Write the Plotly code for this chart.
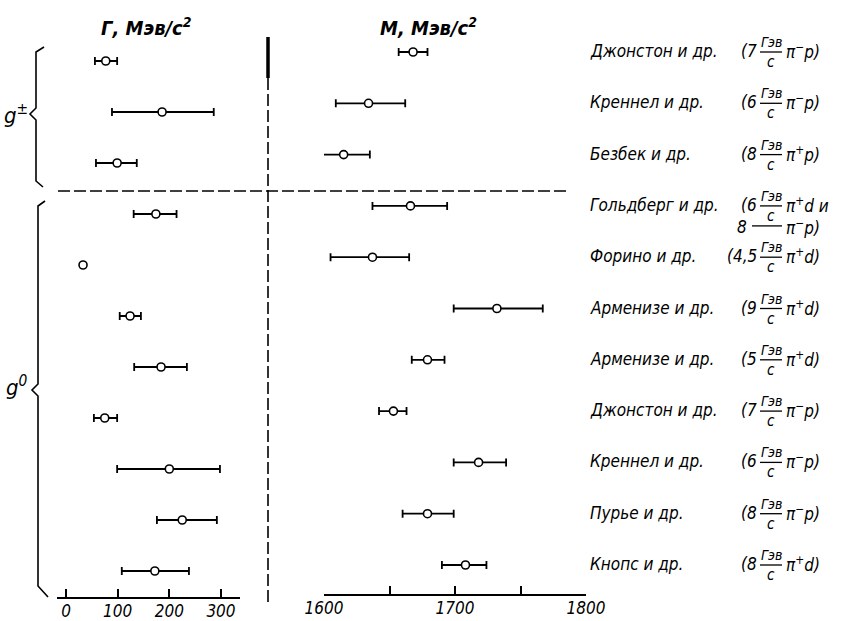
import plotly.graph_objects as go

# ---------------- data ----------------
authors = ["Джонстон и др.", "Креннел и др.", "Безбек и др.", "Гольдберг и др.",
           "Форино и др.", "Арменизе и др.", "Арменизе и др.", "Джонстон и др.",
           "Креннел и др.", "Пурье и др.", "Кнопс и др."]
momenta = ["7", "6", "8", "6", "4,5", "9", "5", "7", "6", "8", "8"]
reactions = ["π<sup>−</sup>p)", "π<sup>−</sup>p)", "π<sup>+</sup>p)", "π<sup>+</sup>d и",
             "π<sup>+</sup>d)", "π<sup>+</sup>d)", "π<sup>+</sup>d)", "π<sup>−</sup>p)",
             "π<sup>−</sup>p)", "π<sup>−</sup>p)", "π<sup>+</sup>d)"]
second_line_momentum = "8"
second_line_reaction = "π<sup>−</sup>p)"

gamma = [77, 186, 99, 174, 33, 124, 184, 75, 200, 225, 172]          # Γ, MeV/c^2
gamma_minus = [21, 97, 41, 43, None, 20, 52, 21, 101, 49, 64]
gamma_plus = [22, 100, 38, 40, None, 21, 50, 24, 98, 67, 66]

mass = [1668, 1634, 1615, 1666, 1637, 1732, 1679, 1653, 1718, 1679, 1708]  # M, MeV/c^2
mass_minus = [11, 25, 18, 29, 32, 33, 12, 11, 19, 19, 18]
mass_plus = [11, 28, 20, 28, 28, 35, 13, 10, 21, 20, 16]

gamma_ticks = [0, 100, 200, 300]
mass_ticks = [1600, 1700, 1800]
mass_minor_ticks = [1650, 1750]

group_labels = ["g<sup>±</sup>", "g<sup>0</sup>"]

# ---------------- layout helpers ----------------
W, H = 844, 621
def px(x):
    return x / W
def py(y):
    return 1 - y / H

FONT = "Liberation Sans Narrow, DejaVu Sans Condensed, Liberation Sans, sans-serif"
rows = list(range(len(authors)))

fig = go.Figure()

# Γ panel
idx_err = [i for i in rows if gamma_minus[i] is not None]
idx_noerr = [i for i in rows if gamma_minus[i] is None]
marker = dict(symbol="circle", size=8, color="white", line=dict(color="black", width=1.6))
fig.add_trace(go.Scatter(
    x=[gamma[i] for i in idx_err], y=idx_err, mode="markers", marker=marker,
    error_x=dict(type="data", symmetric=False,
                 array=[gamma_plus[i] for i in idx_err],
                 arrayminus=[gamma_minus[i] for i in idx_err],
                 color="black", thickness=1.8, width=4),
    xaxis="x", yaxis="y", showlegend=False, hoverinfo="skip"))
fig.add_trace(go.Scatter(
    x=[gamma[i] for i in idx_noerr], y=idx_noerr, mode="markers", marker=marker,
    xaxis="x", yaxis="y", showlegend=False, hoverinfo="skip"))

# M panel
fig.add_trace(go.Scatter(
    x=mass, y=rows, mode="markers", marker=marker,
    error_x=dict(type="data", symmetric=False, array=mass_plus, arrayminus=mass_minus,
                 color="black", thickness=1.8, width=4),
    xaxis="x2", yaxis="y2", showlegend=False, hoverinfo="skip"))

axis_common = dict(showgrid=False, zeroline=False, showline=True, linecolor="black",
                   linewidth=2, ticks="inside", ticklen=8, tickwidth=1.6, tickcolor="black",
                   tickfont=dict(family=FONT, size=17, color="black", style="italic"),
                   ticklabelstandoff=-2,
                   fixedrange=True, automargin=False)

fig.update_layout(
    width=W, height=H, margin=dict(l=0, r=0, t=0, b=0, pad=0, autoexpand=False),
    paper_bgcolor="white", plot_bgcolor="rgba(0,0,0,0)",
    xaxis=dict(domain=[px(57), px(240)], range=[-17.4, 336.8], anchor="y",
               tickmode="array", tickvals=gamma_ticks,
               ticktext=[str(t) for t in gamma_ticks], **axis_common),
    xaxis2=dict(domain=[px(324), px(586)], range=[1600, 1800], anchor="y2",
                tickmode="array", tickvals=mass_ticks,
                ticktext=[str(t) for t in mass_ticks],
                minor=dict(tickmode="array", tickvals=mass_minor_ticks, ticks="inside",
                           ticklen=8, tickwidth=1.6, tickcolor="black", showgrid=False),
                **axis_common),
    yaxis=dict(domain=[py(597), 1], range=[(597 - 61) / 51.0, -61 / 51.0],
               visible=False, anchor="x", fixedrange=True),
    yaxis2=dict(domain=[py(594), 1], range=[(594 - 52) / 51.3, -52 / 51.3],
                visible=False, anchor="x2", fixedrange=True),
)

ann = []
shapes = []
lab_font = dict(family=FONT, size=17, color="black", style="italic")
small_font = dict(family=FONT, size=14, color="black", style="italic")

for i in rows:
    ann.append(dict(x=px(588), y=i, xref="paper", yref="y2", text=authors[i],
                    xanchor="left", yanchor="middle", showarrow=False, font=lab_font, yshift=1))
    ann.append(dict(x=px(759), y=i, xref="paper", yref="y2", text="(" + momenta[i],
                    xanchor="right", yanchor="middle", showarrow=False, font=lab_font, yshift=1))
    ann.append(dict(x=px(771), y=i, xref="paper", yref="y2", text="Гэв",
                    xanchor="center", yanchor="middle", showarrow=False, font=small_font, yshift=10))
    ann.append(dict(x=px(771), y=i, xref="paper", yref="y2", text="c",
                    xanchor="center", yanchor="middle", showarrow=False,
                    font=dict(family=FONT, size=15, color="black", style="italic"), yshift=-10))
    shapes.append(dict(type="line", xref="paper", yref="y2", x0=px(760), x1=px(782),
                       y0=i, y1=i, line=dict(color="black", width=1.3)))
    ann.append(dict(x=px(784), y=i, xref="paper", yref="y2", text=reactions[i],
                    xanchor="left", yanchor="middle", showarrow=False, font=lab_font, yshift=1))

# second line of the Гольдберг entry
g_row = 3
ann.append(dict(x=px(749), y=g_row, xref="paper", yref="y2", text=second_line_momentum,
                xanchor="right", yanchor="middle", showarrow=False, font=lab_font, yshift=-21))
shapes.append(dict(type="line", xref="paper", yref="y2", x0=px(752), x1=px(782),
                   y0=g_row + 20 / 51.3, y1=g_row + 20 / 51.3, line=dict(color="black", width=1.3)))
ann.append(dict(x=px(784), y=g_row, xref="paper", yref="y2", text=second_line_reaction,
                xanchor="left", yanchor="middle", showarrow=False, font=lab_font, yshift=-21))

# titles
title_font = dict(family=FONT, size=20, color="black", style="italic", weight="bold")
ann.append(dict(x=px(146), y=py(27), xref="paper", yref="paper", text="Г, Мэв/с<sup>2</sup>",
                xanchor="center", yanchor="middle", showarrow=False, font=title_font))
ann.append(dict(x=px(428), y=py(27), xref="paper", yref="paper", text="М, Мэв/с<sup>2</sup>",
                xanchor="center", yanchor="middle", showarrow=False, font=title_font))

# group labels
grp_font = dict(family=FONT, size=22, color="black", style="italic")
ann.append(dict(x=px(16), y=py(114), xref="paper", yref="paper", text=group_labels[0],
                xanchor="center", yanchor="middle", showarrow=False, font=grp_font))
ann.append(dict(x=px(17), y=py(386), xref="paper", yref="paper", text=group_labels[1],
                xanchor="center", yanchor="middle", showarrow=False, font=grp_font))

def path(points):
    return "M " + " L ".join(f"{px(x)},{py(y)}" for x, y in points)

# braces
shapes.append(dict(type="path", xref="paper", yref="paper",
                   path=path([(44, 47), (36, 52), (36, 108), (30, 114), (36, 120), (36, 181), (43, 187)]),
                   line=dict(color="black", width=1.6)))
shapes.append(dict(type="path", xref="paper", yref="paper",
                   path=path([(45, 201), (38, 206), (38, 384), (32, 390), (38, 396), (38, 586), (48, 597)]),
                   line=dict(color="black", width=1.6)))

# separators
shapes.append(dict(type="line", xref="paper", yref="paper", x0=px(268), x1=px(268),
                   y0=py(37), y1=py(78), line=dict(color="black", width=3.5)))
shapes.append(dict(type="line", xref="paper", yref="paper", x0=px(268), x1=px(268),
                   y0=py(78), y1=py(606), line=dict(color="black", width=1.6, dash="12px,4px")))
shapes.append(dict(type="line", xref="paper", yref="paper", x0=px(58), x1=px(566),
                   y0=py(191), y1=py(191), line=dict(color="black", width=1.5, dash="12px,4px")))

fig.update_layout(annotations=ann, shapes=shapes)
fig.write_html("out.html", config={"displayModeBar": False},
               post_script="document.body.style.margin='0';document.body.style.overflow='hidden';")
